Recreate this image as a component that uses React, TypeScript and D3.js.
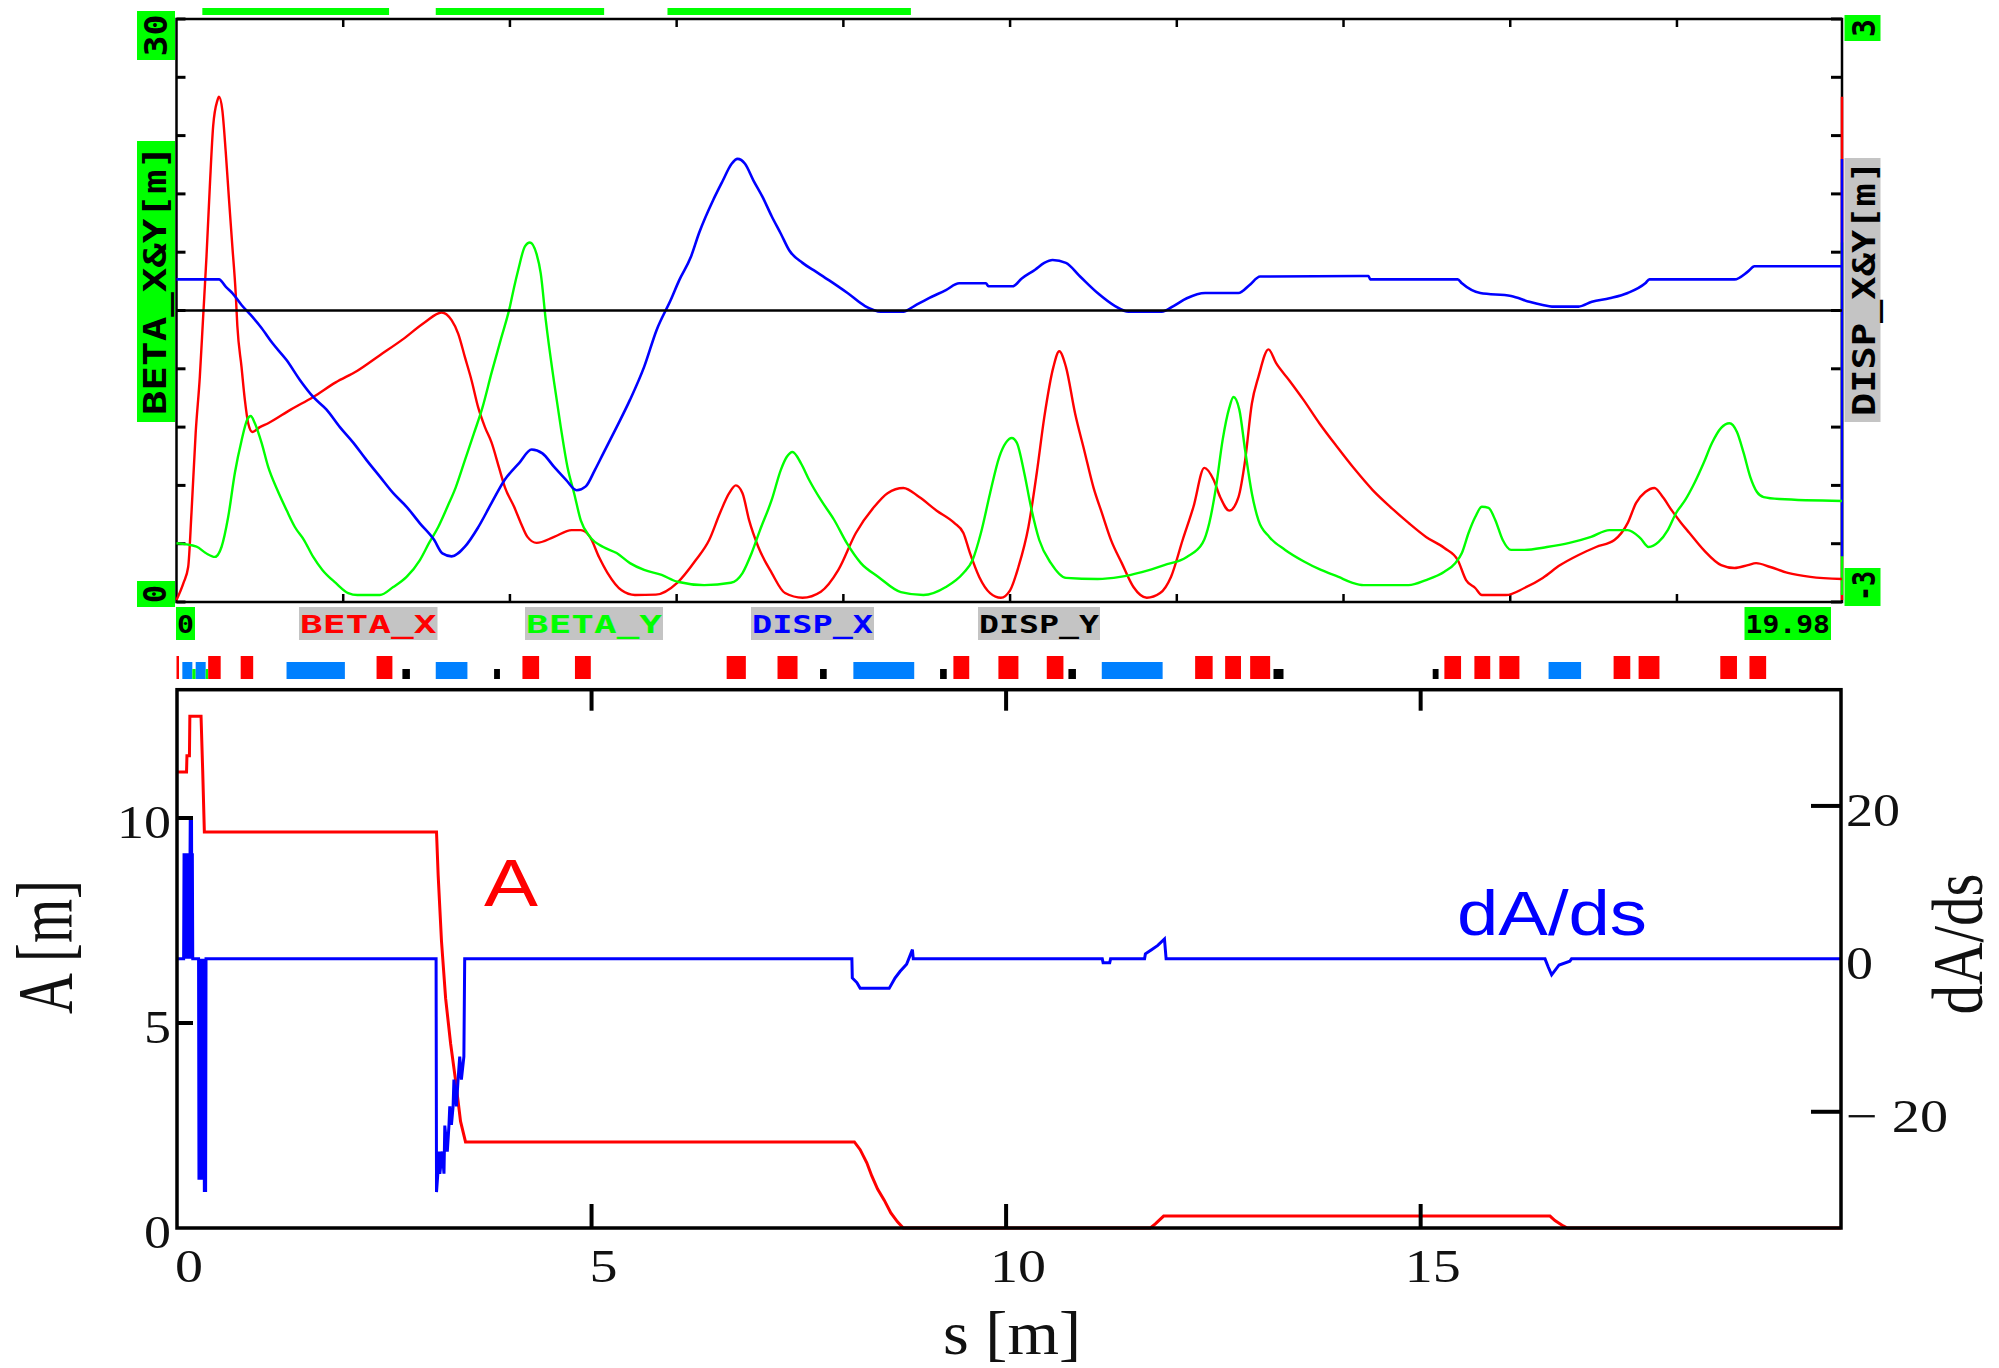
import React from 'react';
import * as d3 from 'd3';

type P = [number, number];

// ---------- Top plot data (s [m], value) ----------
const S_END = 19.98;

const betaX: P[] = [
  [0, 0.1], [0.084, 0.98], [0.14, 1.8], [0.18, 4.6], [0.23, 8.7], [0.28, 11.6], [0.32, 14.7], [0.36, 17.8],
  [0.40, 21.4], [0.44, 24.5], [0.49, 25.8], [0.51, 26.0], [0.55, 25.3], [0.59, 23.2], [0.63, 20.7], [0.67, 18.3],
  [0.71, 15.9], [0.73, 14.2], [0.78, 12.1], [0.82, 10.4], [0.86, 9.2], [0.91, 8.75], [1.0, 9.0], [1.10, 9.2],
  [1.37, 9.9], [1.64, 10.55], [1.91, 11.3], [2.17, 11.9], [2.44, 12.7], [2.71, 13.5], [2.98, 14.4], [3.18, 14.9],
  [3.30, 14.5], [3.38, 13.8], [3.46, 12.6], [3.54, 11.4], [3.62, 10.0], [3.70, 9.0], [3.78, 8.2], [3.87, 6.9],
  [3.94, 5.9], [4.05, 4.9], [4.13, 4.07], [4.21, 3.35], [4.32, 3.04], [4.53, 3.35], [4.74, 3.7], [4.85, 3.7],
  [4.96, 3.35], [5.07, 2.3], [5.17, 1.5], [5.34, 0.6], [5.50, 0.36], [5.75, 0.38], [6.01, 1.0], [6.23, 2.16],
  [6.39, 3.19], [6.52, 4.58], [6.63, 5.6], [6.71, 6.0], [6.79, 5.6], [6.87, 4.2], [6.98, 2.83], [7.14, 1.5],
  [7.30, 0.46], [7.51, 0.22], [7.73, 0.53], [7.94, 1.65], [8.15, 3.55], [8.37, 4.9], [8.53, 5.6], [8.72, 5.87],
  [8.91, 5.4], [9.12, 4.7], [9.33, 4.07], [9.44, 3.55], [9.52, 2.5], [9.63, 1.29], [9.76, 0.46], [9.89, 0.22],
  [10.0, 0.6], [10.1, 1.8], [10.22, 3.86], [10.32, 6.64], [10.41, 9.5], [10.52, 12.1], [10.59, 12.9], [10.67, 12.1],
  [10.78, 9.7], [10.89, 7.8], [11.0, 5.9], [11.1, 4.6], [11.21, 3.2], [11.34, 2.0], [11.48, 0.77], [11.64, 0.22],
  [11.8, 0.46], [11.93, 1.29], [12.07, 3.19], [12.2, 4.9], [12.33, 6.9], [12.44, 6.3], [12.52, 5.4], [12.63, 4.7],
  [12.74, 5.4], [12.82, 7.3], [12.9, 10.2], [12.98, 11.6], [13.1, 13.0], [13.19, 12.3], [13.35, 11.4], [13.52, 10.4],
  [13.71, 9.2], [13.92, 8.0], [14.14, 6.8], [14.35, 5.76], [14.56, 4.9], [14.78, 4.07], [14.99, 3.35], [15.21, 2.78],
  [15.37, 2.16], [15.47, 1.13], [15.58, 0.72], [15.66, 0.36], [15.95, 0.36], [16.17, 0.72], [16.39, 1.24], [16.6, 1.9],
  [16.82, 2.42], [17.03, 2.83], [17.25, 3.19], [17.41, 4.07], [17.51, 5.1], [17.62, 5.66], [17.73, 5.87], [17.83, 5.4],
  [17.94, 4.7], [18.05, 4.07], [18.15, 3.55], [18.32, 2.68], [18.53, 1.9], [18.69, 1.75], [18.85, 1.9], [18.95, 2.0],
  [19.12, 1.8], [19.33, 1.5], [19.6, 1.29], [19.98, 1.18],
];

const betaY: P[] = [
  [0, 3.02], [0.24, 2.85], [0.35, 2.52], [0.46, 2.32], [0.54, 2.83], [0.62, 4.37], [0.70, 6.64], [0.78, 8.3],
  [0.85, 9.4], [0.89, 9.57], [0.94, 9.2], [1.02, 8.2], [1.10, 6.95], [1.21, 5.76], [1.32, 4.73], [1.42, 3.86],
  [1.53, 3.19], [1.64, 2.32], [1.75, 1.65], [1.91, 0.98], [2.06, 0.46], [2.17, 0.36], [2.44, 0.36], [2.6, 0.77],
  [2.76, 1.29], [2.92, 2.16], [3.03, 3.04], [3.14, 3.86], [3.25, 4.9], [3.35, 5.9], [3.46, 7.3], [3.57, 8.7],
  [3.67, 10.0], [3.78, 11.8], [3.89, 13.5], [4.0, 15.2], [4.05, 16.2], [4.10, 17.1], [4.18, 18.3], [4.24, 18.5],
  [4.32, 17.9], [4.37, 16.9], [4.43, 14.5], [4.53, 11.3], [4.61, 9.0], [4.69, 6.95], [4.77, 5.6], [4.85, 4.2],
  [4.96, 3.35], [5.12, 2.83], [5.28, 2.52], [5.44, 2.0], [5.61, 1.65], [5.82, 1.39], [6.01, 1.04], [6.33, 0.87],
  [6.65, 0.99], [6.79, 1.49], [6.9, 2.52], [7.0, 3.7], [7.14, 5.25], [7.25, 6.8], [7.32, 7.46], [7.39, 7.72],
  [7.49, 7.15], [7.59, 6.28], [7.73, 5.25], [7.89, 4.22], [8.04, 3.04], [8.21, 2.0], [8.42, 1.29], [8.69, 0.51],
  [8.96, 0.36], [9.23, 0.77], [9.44, 1.49], [9.55, 2.16], [9.65, 3.55], [9.76, 5.6], [9.87, 7.46], [9.95, 8.2],
  [10.02, 8.44], [10.08, 8.2], [10.17, 6.64], [10.25, 4.9], [10.35, 3.19], [10.49, 2.0], [10.67, 1.24], [11.05, 1.18],
  [11.32, 1.29], [11.58, 1.54], [11.85, 1.9], [12.12, 2.32], [12.31, 3.04], [12.39, 4.07], [12.47, 5.9], [12.55, 8.34],
  [12.63, 10.0], [12.68, 10.55], [12.75, 9.9], [12.82, 7.8], [12.9, 5.6], [12.98, 4.2], [13.11, 3.35], [13.3, 2.68],
  [13.52, 2.1], [13.73, 1.65], [13.94, 1.29], [14.1, 1.0], [14.24, 0.87], [14.78, 0.87], [14.99, 1.13], [15.21, 1.56],
  [15.34, 2.0], [15.42, 2.52], [15.5, 3.55], [15.58, 4.37], [15.66, 4.9], [15.74, 4.84], [15.82, 4.22], [15.91, 3.19],
  [16.01, 2.68], [16.17, 2.68], [16.44, 2.83], [16.71, 3.04], [16.97, 3.35], [17.19, 3.7], [17.41, 3.7], [17.56, 3.29],
  [17.66, 2.83], [17.78, 3.09], [17.89, 3.7], [17.99, 4.58], [18.1, 5.25], [18.21, 6.12], [18.32, 7.15], [18.42, 8.18],
  [18.53, 8.96], [18.63, 9.2], [18.72, 8.75], [18.8, 7.67], [18.88, 6.43], [18.96, 5.66], [19.04, 5.4], [19.23, 5.3],
  [19.98, 5.2],
];

const dispX: P[] = [
  [0, 0.32], [0.51, 0.32], [0.59, 0.245], [0.67, 0.18], [0.78, 0.057], [0.89, -0.046], [1.02, -0.18], [1.15, -0.335],
  [1.32, -0.51], [1.48, -0.715], [1.64, -0.89], [1.8, -1.02], [1.96, -1.2], [2.12, -1.36], [2.28, -1.54], [2.44, -1.71],
  [2.6, -1.88], [2.76, -2.02], [2.92, -2.19], [3.09, -2.36], [3.19, -2.5], [3.3, -2.53], [3.46, -2.43], [3.62, -2.23],
  [3.78, -1.98], [3.94, -1.74], [4.11, -1.57], [4.26, -1.43], [4.39, -1.47], [4.53, -1.61], [4.67, -1.74], [4.8, -1.85],
  [4.91, -1.81], [5.02, -1.64], [5.12, -1.47], [5.28, -1.2], [5.44, -0.92], [5.61, -0.58], [5.76, -0.2], [5.93, 0.11],
  [6.03, 0.31], [6.17, 0.55], [6.27, 0.8], [6.44, 1.14], [6.55, 1.33], [6.66, 1.51], [6.73, 1.56], [6.82, 1.51],
  [6.92, 1.34], [7.03, 1.17], [7.14, 0.97], [7.25, 0.79], [7.35, 0.62], [7.51, 0.49], [7.67, 0.4], [7.83, 0.31],
  [8.05, 0.18], [8.26, 0.046], [8.45, -0.012], [8.72, -0.012], [8.85, 0.046], [9.01, 0.12], [9.23, 0.21], [9.39, 0.28],
  [9.71, 0.28], [9.74, 0.25], [10.03, 0.25], [10.14, 0.33], [10.3, 0.42], [10.41, 0.49], [10.51, 0.52], [10.67, 0.49],
  [10.84, 0.35], [11.05, 0.18], [11.26, 0.046], [11.42, -0.012], [11.82, -0.012], [11.96, 0.046], [12.12, 0.126],
  [12.34, 0.18], [12.74, 0.18], [12.87, 0.26], [13.0, 0.35], [14.3, 0.355], [14.32, 0.32], [15.37, 0.32], [15.42, 0.28],
  [15.64, 0.18], [16.01, 0.15], [16.23, 0.09], [16.39, 0.057], [16.5, 0.04], [16.82, 0.04], [16.98, 0.09], [17.19, 0.126],
  [17.41, 0.18], [17.62, 0.28], [17.67, 0.32], [18.69, 0.32], [18.85, 0.4], [18.93, 0.455], [19.98, 0.455],
];

const dispY: P[] = [[0, 0], [19.98, 0]];

const betaTicks = d3.range(0, 31, 3);
const dispTicks = d3.range(-3, 3.01, 0.6);
const sTicksTop = [2, 4, 6, 8, 10, 12, 14, 16, 18];

// green bars above plot (s ranges)
const topBars: P[] = [[0.31, 2.55], [3.11, 5.13], [5.89, 8.81]];

// lattice elements: [s0, s1, kind]  Q=quad(red), B=bend(blue), S=small(black), G=green marker
const elements: [number, number, string][] = [
  [0, 0.03, 'Q'], [0.07, 0.19, 'B'], [0.19, 0.23, 'G'], [0.23, 0.35, 'B'], [0.35, 0.38, 'G'], [0.38, 0.53, 'Q'],
  [0.77, 0.92, 'Q'], [1.32, 2.02, 'B'], [2.40, 2.59, 'Q'], [2.71, 2.80, 'S'], [3.11, 3.49, 'B'], [3.81, 3.88, 'S'],
  [4.15, 4.35, 'Q'], [4.78, 4.97, 'Q'], [6.60, 6.83, 'Q'], [7.21, 7.45, 'Q'], [7.72, 7.80, 'S'], [8.12, 8.85, 'B'],
  [9.16, 9.24, 'S'], [9.32, 9.51, 'Q'], [9.86, 10.10, 'Q'], [10.44, 10.64, 'Q'], [10.70, 10.79, 'S'], [11.10, 11.83, 'B'],
  [12.22, 12.43, 'Q'], [12.58, 12.77, 'Q'], [12.88, 13.12, 'Q'], [13.16, 13.28, 'S'], [15.07, 15.14, 'S'],
  [15.21, 15.41, 'Q'], [15.57, 15.76, 'Q'], [15.87, 16.11, 'Q'], [16.46, 16.85, 'B'], [17.24, 17.44, 'Q'],
  [17.54, 17.79, 'Q'], [18.52, 18.72, 'Q'], [18.87, 19.07, 'Q'],
];

// ---------- Bottom plot data ----------
const S_END_BOT = 20.07;

const aCurve: P[] = [
  [0, 11.12], [0.115, 11.12], [0.12, 11.52], [0.15, 11.52], [0.155, 12.48], [0.29, 12.48], [0.31, 11.15], [0.33, 9.66],
  [3.13, 9.66], [3.15, 8.6], [3.19, 7.0], [3.24, 5.6], [3.30, 4.5], [3.36, 3.6], [3.42, 2.6], [3.48, 2.1],
  [8.17, 2.1], [8.24, 1.91], [8.32, 1.59], [8.38, 1.27], [8.45, 0.95], [8.53, 0.68], [8.61, 0.37], [8.69, 0.15],
  [8.76, 0], [11.74, 0], [11.8, 0.1], [11.9, 0.29], [16.56, 0.29], [16.62, 0.18], [16.72, 0.05], [16.77, 0],
  [20.07, 0],
];

const dAds: P[] = [
  [0, 0], [0.08, 0],
  [0.085, 13.8], [0.09, 0], [0.095, 13.8], [0.1, 0], [0.105, 13.8], [0.11, 0], [0.115, 13.8], [0.12, 0],
  [0.125, 13.8], [0.13, 0], [0.135, 13.8], [0.14, 0], [0.145, 13.8], [0.15, 0], [0.16, 18.6], [0.165, 0],
  [0.175, 18.6], [0.18, 0], [0.185, 13.8], [0.19, 0],
  [0.26, 0], [0.265, -28.9], [0.27, 0], [0.275, -28.9], [0.28, 0], [0.285, -28.9], [0.29, 0], [0.295, -28.9],
  [0.3, 0], [0.305, -28.9], [0.31, 0], [0.315, -28.9], [0.32, 0], [0.33, -30.5], [0.335, 0], [0.345, -30.5], [0.35, 0],
  [3.125, 0], [3.13, -30.5], [3.165, -25.2], [3.17, -28.1], [3.2, -25.2], [3.22, -28.1], [3.23, -21.8], [3.26, -25.2],
  [3.28, -21.8], [3.29, -19.3], [3.31, -21.7], [3.33, -19.3], [3.34, -15.8], [3.37, -19.3], [3.39, -15.8],
  [3.41, -12.8], [3.43, -15.8], [3.46, -12.8], [3.47, 0],
  [8.14, 0], [8.145, -2.5], [8.2, -3.1], [8.24, -3.86], [8.59, -3.86], [8.66, -2.5], [8.72, -1.65], [8.8, -0.7],
  [8.87, 1.2], [8.88, 0], [11.16, 0], [11.17, -0.5], [11.25, -0.5], [11.26, 0], [11.67, 0], [11.68, 0.65],
  [11.75, 1.17], [11.83, 1.76], [11.91, 2.6], [11.93, 0], [16.5, 0], [16.54, -1.1], [16.58, -2.1], [16.67, -0.8],
  [16.8, -0.3], [16.82, 0], [20.07, 0],
];

const sTicksBot = [0, 5, 10, 15];
const aTicks = [0, 5, 10];
const dTicks = [-20, 0, 20];

// ---------- Layout ----------
const T = { l: 176.5, r: 1842, t: 19, b: 602 };
const B = { l: 177, r: 1841, t: 689.7, b: 1228 };

const RED = '#ff0000';
const GREEN = '#00ff00';
const BLUE = '#0000ff';
const EBLUE = '#0080ff';
const GRAY = '#c4c4c4';
const PIX = '"DejaVu Sans Mono", monospace';
const SERIF = '"Liberation Serif", "Times New Roman", serif';
const SANS = '"Liberation Sans", Arial, sans-serif';

export default function App() {
  const xT = d3.scaleLinear().domain([0, S_END]).range([T.l, T.r]);
  const yBeta = d3.scaleLinear().domain([0, 30]).range([T.b, T.t]);
  const yDisp = d3.scaleLinear().domain([-3, 3]).range([T.b, T.t]);

  const xB = d3.scaleLinear().domain([0, S_END_BOT]).range([B.l, B.r]);
  const yA = d3.scaleLinear().domain([0, 13.13]).range([B.b, B.t]);
  const yD = d3.scaleLinear().domain([-35.2, 35.2]).range([B.b, B.t]);

  const lineBeta = d3.line<P>().x(d => xT(d[0])).y(d => yBeta(d[1])).curve(d3.curveMonotoneX);
  const lineDisp = d3.line<P>().x(d => xT(d[0])).y(d => yDisp(d[1])).curve(d3.curveMonotoneX);
  const lineA = d3.line<P>().x(d => xB(d[0])).y(d => yA(d[1]));
  const lineD = d3.line<P>().x(d => xB(d[0])).y(d => yD(d[1]));

  const exX = d3.extent(betaX, d => d[1]) as [number, number];
  const exY = d3.extent(betaY, d => d[1]) as [number, number];
  const exD = d3.extent(dispX, d => d[1]) as [number, number];

  const rotText = (x: number, y: number, txt: string, len: number, fs: number, fill = '#000') => (
    <text transform={`translate(${x},${y}) rotate(-90)`} textAnchor="middle" fontFamily={PIX} fontWeight="bold"
      fontSize={fs} fill={fill} textLength={len} lengthAdjust="spacingAndGlyphs">{txt}</text>
  );

  const legend = (x0: number, x1: number, txt: string, fill: string, bg: string) => (
    <g key={txt}>
      <rect x={x0} y={607} width={x1 - x0} height={33} fill={bg} />
      <text x={x0 + 1} y={633} fontFamily={PIX} fontWeight="bold" fontSize={25} fill={fill}
        textLength={x1 - x0 - 2} lengthAdjust="spacingAndGlyphs">{txt}</text>
    </g>
  );

  const elemStyle: Record<string, { y: number; fill: string }> = {
    Q: { y: 656, fill: RED },
    B: { y: 662, fill: EBLUE },
    S: { y: 669, fill: '#000' },
    G: { y: 669, fill: GREEN },
  };

  return (
    <svg width={1999} height={1368} style={{ position: 'absolute', left: 0, top: 0, background: '#fff' }}>
      <rect x={0} y={0} width={1999} height={1368} fill="#fff" />

      {/* ===== TOP PLOT ===== */}
      {topBars.map((b, i) => (
        <rect key={i} x={xT(b[0])} y={8} width={xT(b[1]) - xT(b[0])} height={7} fill={GREEN} />
      ))}

      <rect x={T.l} y={T.t} width={T.r - T.l} height={T.b - T.t} fill="none" stroke="#000" strokeWidth={2.5} />

      {betaTicks.map(t => (
        <line key={'bl' + t} x1={T.l} x2={T.l + 9} y1={yBeta(t)} y2={yBeta(t)} stroke="#000" strokeWidth={3} />
      ))}
      {dispTicks.map((t, i) => (
        <line key={'dr' + i} x1={T.r - 11} x2={T.r} y1={yDisp(t)} y2={yDisp(t)} stroke="#000" strokeWidth={3} />
      ))}
      {sTicksTop.map(t => (
        <g key={'st' + t}>
          <line x1={xT(t)} x2={xT(t)} y1={T.t} y2={T.t + 8} stroke="#000" strokeWidth={2.5} />
          <line x1={xT(t)} x2={xT(t)} y1={T.b - 8} y2={T.b} stroke="#000" strokeWidth={2.5} />
        </g>
      ))}

      {/* right-edge range bars */}
      <line x1={T.r} x2={T.r} y1={yBeta(exX[1])} y2={yBeta(exX[0])} stroke={RED} strokeWidth={2.5} />
      <line x1={T.r} x2={T.r} y1={yBeta(exY[1])} y2={yBeta(exY[0])} stroke={GREEN} strokeWidth={2.5} />
      <line x1={T.r} x2={T.r} y1={yDisp(exD[1])} y2={yDisp(exD[0])} stroke={BLUE} strokeWidth={2.5} />

      <path d={lineBeta(betaX) || ''} fill="none" stroke={RED} strokeWidth={2.4} />
      <path d={lineBeta(betaY) || ''} fill="none" stroke={GREEN} strokeWidth={2.4} />
      <path d={lineDisp(dispX) || ''} fill="none" stroke={BLUE} strokeWidth={2.6} />
      <path d={lineDisp(dispY) || ''} fill="none" stroke="#000" strokeWidth={2.5} />

      {/* left axis labels */}
      <rect x={137} y={11} width={38} height={49} fill={GREEN} />
      {rotText(166.5, 35.5, '30', 42, 32)}
      <rect x={137} y={141} width={38} height={281} fill={GREEN} />
      {rotText(166, 280, 'BETA_X&Y[m]', 270, 32)}
      <rect x={137} y={581} width={38} height={26} fill={GREEN} />
      {rotText(166, 594, '0', 18, 32)}

      {/* right axis labels */}
      <rect x={1844.5} y={15} width={36} height={26} fill={GREEN} />
      {rotText(1875, 28, '3', 18, 32)}
      <rect x={1844.5} y={158} width={36} height={264} fill={GRAY} />
      {rotText(1875, 288, 'DISP_X&Y[m]', 256, 32)}
      <rect x={1844.5} y={568} width={36} height={38} fill={GREEN} />
      {rotText(1875, 586, '-3', 30, 32)}

      {/* legend row */}
      {legend(176, 195, '0', '#000', GREEN)}
      {legend(299, 437.5, 'BETA_X', RED, GRAY)}
      {legend(525, 663, 'BETA_Y', GREEN, GRAY)}
      {legend(751, 874, 'DISP_X', BLUE, GRAY)}
      {legend(978, 1100, 'DISP_Y', '#000', GRAY)}
      {legend(1744.5, 1831, '19.98', '#000', GREEN)}

      {/* lattice elements */}
      {elements.map((e, i) => {
        const st = elemStyle[e[2]];
        return <rect key={'e' + i} x={xT(e[0])} y={st.y} width={Math.max(1.5, xT(e[1]) - xT(e[0]))} height={679 - st.y} fill={st.fill} />;
      })}

      {/* ===== BOTTOM PLOT ===== */}
      <path d={lineA(aCurve) || ''} fill="none" stroke={RED} strokeWidth={3} />
      <path d={lineD(dAds) || ''} fill="none" stroke={BLUE} strokeWidth={3} />

      <rect x={B.l} y={B.t} width={B.r - B.l} height={B.b - B.t} fill="none" stroke="#000" strokeWidth={3.5} />

      {sTicksBot.filter(t => t > 0).map(t => (
        <g key={'sb' + t}>
          <line x1={xB(t)} x2={xB(t)} y1={B.t} y2={B.t + 21} stroke="#000" strokeWidth={4} />
          <line x1={xB(t)} x2={xB(t)} y1={B.b - 24} y2={B.b} stroke="#000" strokeWidth={4} />
        </g>
      ))}
      {aTicks.filter(t => t > 0).map(t => (
        <line key={'at' + t} x1={B.l} x2={B.l + 16} y1={yA(t)} y2={yA(t)} stroke="#000" strokeWidth={4} />
      ))}
      {dTicks.filter(t => t !== 0).map(t => (
        <line key={'dt' + t} x1={B.r - 30} x2={B.r} y1={yD(t)} y2={yD(t)} stroke="#000" strokeWidth={4} />
      ))}

      {sTicksBot.map(t => {
        const s = String(t);
        return (
          <text key={'sl' + t} x={xB(t) + 12} y={1282} textAnchor="middle" fontFamily={SERIF} fontSize={47}
            fill="#111" textLength={28 * s.length} lengthAdjust="spacingAndGlyphs">{s}</text>
        );
      })}
      {aTicks.map(t => {
        const s = String(t);
        return (
          <text key={'al' + t} x={171} y={yA(t) + 20} textAnchor="end" fontFamily={SERIF} fontSize={47}
            fill="#111" textLength={27 * s.length} lengthAdjust="spacingAndGlyphs">{s}</text>
        );
      })}
      {dTicks.map(t => {
        const s = t < 0 ? '\u2212 ' + String(-t) : String(t);
        const len = t < 0 ? 102 : 27 * s.length;
        return (
          <text key={'dl' + t} x={1846} y={yD(t) + 20} textAnchor="start" fontFamily={SERIF} fontSize={47}
            fill="#111" textLength={len} lengthAdjust="spacingAndGlyphs" style={{ whiteSpace: 'pre' }}>{s}</text>
        );
      })}

      {/* axis titles */}
      <text x={943} y={1354} fontFamily={SERIF} fontSize={62} fill="#111" textLength={138}
        lengthAdjust="spacingAndGlyphs">s [m]</text>
      <text transform="translate(71,947) rotate(-90)" textAnchor="middle" fontFamily={SERIF} fontSize={78}
        fill="#111" textLength={134} lengthAdjust="spacingAndGlyphs">A [m]</text>
      <text transform="translate(1982,944) rotate(-90)" textAnchor="middle" fontFamily={SERIF} fontSize={72}
        fill="#111" textLength={141} lengthAdjust="spacingAndGlyphs">dA/ds</text>

      {/* inline labels */}
      <text x={484} y={906} fontFamily={SANS} fontSize={66} fill={RED} textLength={54}
        lengthAdjust="spacingAndGlyphs">A</text>
      <text x={1457} y={935} fontFamily={SANS} fontSize={63} fill={BLUE} textLength={190}
        lengthAdjust="spacingAndGlyphs">dA/ds</text>
    </svg>
  );
}
